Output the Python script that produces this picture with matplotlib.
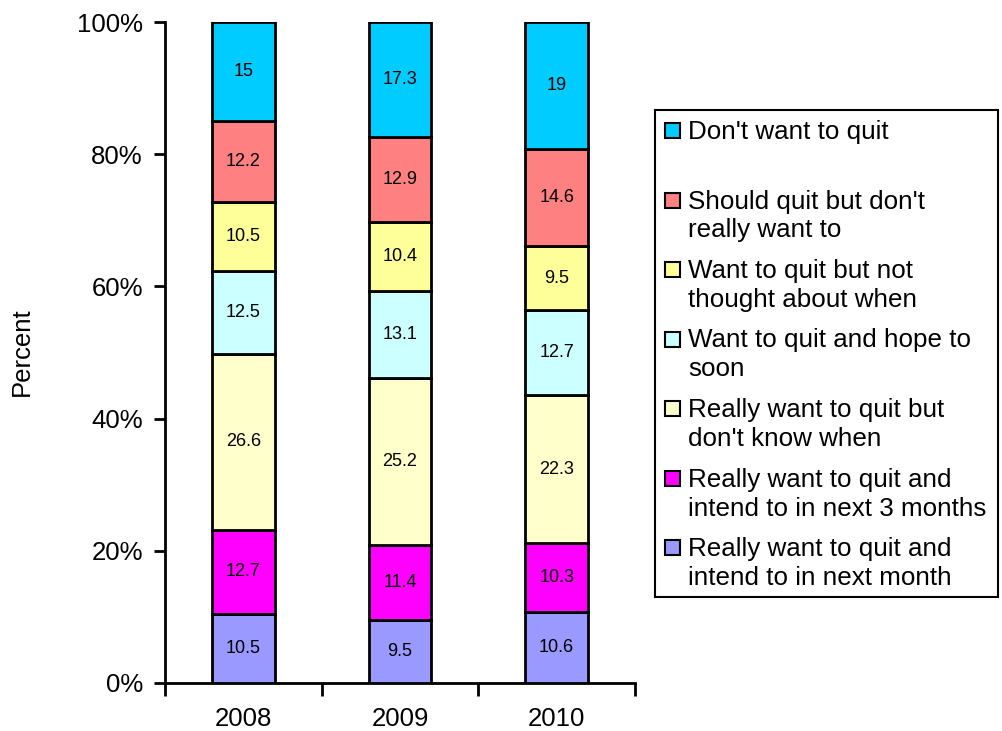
import matplotlib
matplotlib.use("Agg")
import matplotlib.pyplot as plt
from matplotlib.patches import Rectangle
import numpy as np

plt.rcParams['font.family'] = ['Liberation Sans', 'DejaVu Sans']

years = ["2008", "2009", "2010"]
categories = [
    "Really want to quit and\nintend to in next month",
    "Really want to quit and\nintend to in next 3 months",
    "Really want to quit but\ndon't know when",
    "Want to quit and hope to\nsoon",
    "Want to quit but not\nthought about when",
    "Should quit but don't\nreally want to",
    "Don't want to quit",
]
colors = ["#9999FF", "#FF00FF", "#FFFFCC", "#CCFFFF", "#FFFF99", "#FF8080", "#00CCFF"]

next_month = [10.5, 9.5, 10.6]
next_3_months = [12.7, 11.4, 10.3]
dont_know_when = [26.6, 25.2, 22.3]
hope_soon = [12.5, 13.1, 12.7]
not_thought = [10.5, 10.4, 9.5]
should_quit = [12.2, 12.9, 14.6]
dont_want = [15, 17.3, 19]

series = [next_month, next_3_months, dont_know_when, hope_soon,
          not_thought, should_quit, dont_want]

W, H = 1002, 731
fig = plt.figure(figsize=(W / 100, H / 100), dpi=100)
ax = fig.add_axes([165 / W, 1 - 683 / H, (635 - 165) / W, (683 - 22) / H])

data = np.array(series, dtype=float)
totals = data.sum(axis=0)
pct = data / totals * 100
x = np.arange(len(years))
bottom = np.zeros(len(years))
for vals, raw, col in zip(pct, data, colors):
    ax.bar(x, vals, width=0.40, bottom=bottom, color=col,
           edgecolor="black", linewidth=2, zorder=3)
    for xi, b, v, r in zip(x, bottom, vals, raw):
        ax.text(xi, b + v / 2, f"{r:g}", ha="center", va="center",
                fontsize=13, color="black", zorder=4)
    bottom += vals

ax.set_xlim(-0.5, 2.5)
ax.set_ylim(0, 100)
ax.set_yticks(np.arange(0, 101, 20))
ax.set_yticklabels([f"{v}%" for v in range(0, 101, 20)])
ax.set_xticks(x)
ax.set_xticklabels(years)
ax.set_xticks([-0.5, 0.5, 1.5, 2.5], minor=True)
ax.tick_params(axis="x", which="major", length=0, pad=17, labelsize=18.5)
ax.tick_params(axis="x", which="minor", length=9, width=2, direction="out")
ax.tick_params(axis="y", which="major", length=8, width=2, pad=8,
               labelsize=18.5, direction="out")
for s in ["top", "right"]:
    ax.spines[s].set_visible(False)
for s in ["left", "bottom"]:
    ax.spines[s].set_linewidth(2)

fig.text(22 / W, 1 - 352 / H, "Percent", rotation=90, ha="center",
         va="center", fontsize=18.5)

# Legend (top entry first)
fig.add_artist(Rectangle((655 / W, 1 - 597 / H), (998 - 655) / W,
                         (597 - 110) / H, transform=fig.transFigure,
                         facecolor="white", edgecolor="black", linewidth=1.5))
msz = 15
for i, (lab, col) in enumerate(zip(categories[::-1], colors[::-1])):
    base = 139 + 69.5 * i
    fig.add_artist(Rectangle((665 / W, 1 - (base - 1) / H), msz / W, msz / H,
                             transform=fig.transFigure, facecolor=col,
                             edgecolor="black", linewidth=1.5))
    for j, line in enumerate(lab.split("\n")):
        fig.text(688 / W, 1 - (base + 29 * j) / H, line, ha="left",
                 va="baseline", fontsize=18.7)

fig.savefig("out.png", dpi=100)
